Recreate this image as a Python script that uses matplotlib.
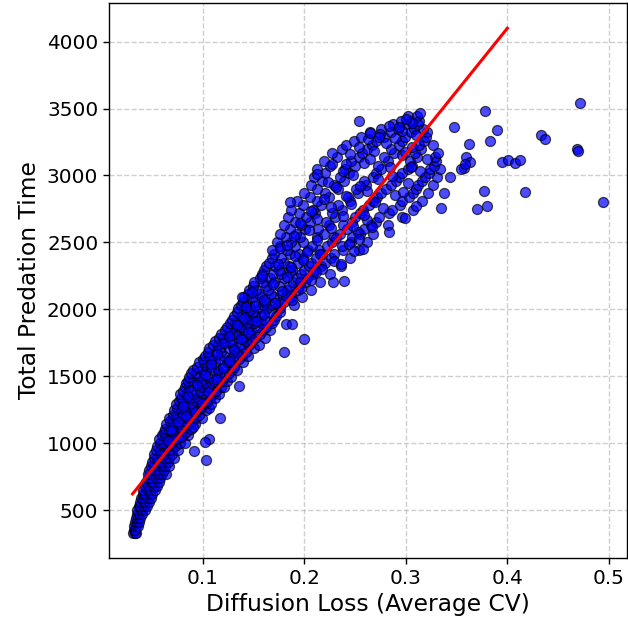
import matplotlib
matplotlib.use("Agg")
import matplotlib.pyplot as plt
import numpy as np

# ---- data ----
# dense band: (total predation time, [diffusion loss values at that time])
lower_rows = [
    (330, [0.031, 0.033, 0.034]),
    (350, [0.032, 0.0335]),
    (380, [0.032, 0.034, 0.036]),
    (410, [0.033, 0.035, 0.037]),
    (440, [0.034, 0.036, 0.038]),
    (470, [0.035, 0.037, 0.040]),
    (500, [0.035, 0.039, 0.040, 0.043]),
    (530, [0.037, 0.038, 0.042, 0.045]),
    (560, [0.038, 0.042, 0.043, 0.047]),
    (590, [0.039, 0.041, 0.046, 0.049]),
    (620, [0.041, 0.043, 0.048, 0.050]),
    (650, [0.041, 0.046, 0.048, 0.053]),
    (680, [0.043, 0.046, 0.052, 0.055]),
    (710, [0.044, 0.049, 0.051, 0.057]),
    (740, [0.046, 0.049, 0.055, 0.058]),
    (770, [0.046, 0.050, 0.057, 0.060, 0.064]),
    (800, [0.047, 0.053, 0.056, 0.062]),
    (830, [0.049, 0.052, 0.060, 0.063, 0.067]),
    (860, [0.050, 0.056, 0.059, 0.066]),
    (890, [0.052, 0.055, 0.063, 0.067, 0.072]),
    (920, [0.052, 0.059, 0.062, 0.070]),
    (950, [0.054, 0.058, 0.066, 0.070, 0.076]),
    (980, [0.055, 0.062, 0.065, 0.073]),
    (1004, [0.058, 0.061, 0.069, 0.078, 0.083]),
    (1027, [0.057, 0.066, 0.071, 0.074]),
    (1058, [0.060, 0.063, 0.070, 0.081, 0.086]),
    (1083, [0.062, 0.072, 0.077, 0.084]),
    (1109, [0.063, 0.067, 0.071, 0.080, 0.089]),
    (1142, [0.064, 0.075, 0.078, 0.086, 0.092]),
    (1168, [0.068, 0.071, 0.082, 0.090]),
    (1187, [0.067, 0.079, 0.085, 0.093, 0.099]),
    (1213, [0.071, 0.074, 0.081, 0.089, 0.096]),
    (1244, [0.072, 0.084, 0.087, 0.095, 0.103]),
    (1262, [0.075, 0.079, 0.091, 0.098, 0.106]),
    (1291, [0.074, 0.083, 0.089, 0.101, 0.108]),
    (1318, [0.077, 0.081, 0.093, 0.097, 0.104]),
    (1337, [0.079, 0.088, 0.095, 0.107, 0.112]),
    (1369, [0.078, 0.085, 0.091, 0.100, 0.110, 0.116]),
    (1392, [0.081, 0.090, 0.097, 0.104, 0.113]),
    (1417, [0.083, 0.087, 0.099, 0.106, 0.118, 0.121]),
    (1446, [0.084, 0.094, 0.102, 0.109, 0.115]),
    (1466, [0.086, 0.091, 0.098, 0.111, 0.119, 0.124]),
    (1497, [0.087, 0.096, 0.105, 0.114, 0.122, 0.128]),
    (1521, [0.089, 0.093, 0.101, 0.117, 0.126]),
    (1544, [0.091, 0.099, 0.110, 0.115, 0.129, 0.134]),
    (1572, [0.094, 0.104, 0.108, 0.121, 0.131]),
    (1603, [0.096, 0.101, 0.112, 0.124, 0.128, 0.140]),
    (1627, [0.100, 0.109, 0.117, 0.127, 0.136]),
    (1651, [0.102, 0.106, 0.121, 0.131, 0.139, 0.145]),
    (1683, [0.105, 0.113, 0.118, 0.134, 0.143]),
    (1708, [0.106, 0.117, 0.126, 0.131, 0.141, 0.151]),
    (1734, [0.110, 0.115, 0.129, 0.137, 0.146, 0.155]),
    (1761, [0.112, 0.122, 0.127, 0.143, 0.149]),
    (1788, [0.116, 0.120, 0.135, 0.140, 0.152, 0.161]),
    (1812, [0.118, 0.129, 0.133, 0.147, 0.156]),
    (1843, [0.122, 0.127, 0.141, 0.148, 0.159, 0.166]),
    (1869, [0.124, 0.136, 0.139, 0.154, 0.162]),
    (1898, [0.127, 0.132, 0.145, 0.151, 0.158, 0.168]),
    (1922, [0.129, 0.142, 0.148, 0.161, 0.170]),
    (1951, [0.131, 0.138, 0.152, 0.157, 0.172]),
    (1979, [0.134, 0.144, 0.150, 0.165, 0.176]),
]
upper_rows = [
    (2006, [0.135, 0.147, 0.156, 0.163, 0.176]),
    (2034, [0.138, 0.143, 0.159, 0.168, 0.174, 0.190]),
    (2055, [0.140, 0.152, 0.161, 0.176, 0.180]),
    (2088, [0.141, 0.150, 0.158, 0.170, 0.187, 0.198]),
    (2113, [0.145, 0.155, 0.167, 0.178, 0.187]),
    (2146, [0.146, 0.153, 0.164, 0.183, 0.194, 0.207]),
    (2171, [0.150, 0.162, 0.175, 0.185, 0.195]),
    (2203, [0.151, 0.159, 0.170, 0.189, 0.201, 0.216]),
    (2232, [0.156, 0.166, 0.180, 0.193, 0.203]),
    (2264, [0.158, 0.169, 0.177, 0.197, 0.209, 0.225]),
    (2291, [0.160, 0.175, 0.188, 0.200, 0.211]),
    (2325, [0.162, 0.171, 0.185, 0.205, 0.217, 0.236]),
    (2349, [0.165, 0.180, 0.194, 0.207, 0.220]),
    (2386, [0.168, 0.177, 0.199, 0.212, 0.226, 0.245]),
    (2411, [0.170, 0.186, 0.195, 0.218, 0.229]),
    (2443, [0.168, 0.183, 0.204, 0.215, 0.238, 0.254]),
    (2476, [0.176, 0.191, 0.208, 0.222, 0.237]),
    (2502, [0.173, 0.187, 0.199, 0.227, 0.246, 0.262]),
    (2538, [0.182, 0.196, 0.213, 0.229, 0.247]),
    (2562, [0.176, 0.192, 0.219, 0.235, 0.255, 0.268]),
    (2597, [0.186, 0.201, 0.214, 0.242, 0.259]),
    (2628, [0.180, 0.197, 0.224, 0.238, 0.266, 0.282]),
    (2655, [0.191, 0.206, 0.221, 0.247, 0.271]),
    (2688, [0.184, 0.202, 0.230, 0.250, 0.274, 0.296]),
    (2719, [0.195, 0.211, 0.227, 0.255, 0.283]),
    (2744, [0.187, 0.209, 0.237, 0.258, 0.286, 0.307]),
    (2776, [0.199, 0.217, 0.233, 0.264, 0.294]),
    (2807, [0.193, 0.213, 0.245, 0.268, 0.296, 0.316]),
    (2838, [0.206, 0.224, 0.243, 0.272, 0.303]),
    (2866, [0.200, 0.220, 0.253, 0.276, 0.307, 0.322]),
    (2897, [0.213, 0.233, 0.251, 0.281, 0.310]),
    (2925, [0.207, 0.229, 0.261, 0.285, 0.312, 0.327]),
    (2958, [0.218, 0.239, 0.259, 0.290, 0.316]),
    (2987, [0.210, 0.235, 0.268, 0.293, 0.319, 0.331]),
    (3016, [0.220, 0.244, 0.271, 0.296, 0.323]),
    (3048, [0.213, 0.240, 0.276, 0.302, 0.324, 0.334]),
    (3074, [0.225, 0.250, 0.273, 0.306, 0.328]),
    (3109, [0.219, 0.246, 0.282, 0.304, 0.330]),
    (3136, [0.232, 0.254, 0.279, 0.311, 0.329]),
    (3167, [0.227, 0.257, 0.288, 0.309, 0.332]),
    (3195, [0.237, 0.262, 0.285, 0.315]),
    (3228, [0.241, 0.267, 0.293, 0.313, 0.327]),
    (3257, [0.249, 0.271, 0.296, 0.318]),
    (3288, [0.256, 0.279, 0.299, 0.320]),
    (3321, [0.265, 0.285, 0.305, 0.321]),
    (3349, [0.276, 0.292, 0.308, 0.317]),
    (3382, [0.287, 0.300, 0.312]),
    (3408, [0.295, 0.305, 0.313]),
    (3443, [0.302, 0.311]),
]
# extra points scattered inside the band
fill_cv = [0.066, 0.079, 0.069, 0.091, 0.076, 0.084, 0.092, 0.081, 0.099, 0.086,
           0.105, 0.094, 0.113, 0.102, 0.120, 0.108, 0.126, 0.114, 0.131, 0.121,
           0.138, 0.126, 0.145, 0.134, 0.153, 0.141, 0.160, 0.147,
           0.143, 0.171, 0.160, 0.182, 0.149, 0.197, 0.169, 0.207, 0.158, 0.186,
           0.218, 0.174, 0.229, 0.191, 0.203, 0.176, 0.244, 0.213, 0.190, 0.253,
           0.226, 0.196, 0.262, 0.238, 0.207, 0.278, 0.246, 0.219, 0.289, 0.262,
           0.231, 0.302, 0.273, 0.248, 0.314, 0.284, 0.259, 0.321, 0.296, 0.269,
           0.306, 0.281, 0.263, 0.310, 0.296, 0.283, 0.306,
           0.152, 0.188, 0.139, 0.178, 0.196, 0.183, 0.212, 0.187, 0.236, 0.199,
           0.216, 0.249, 0.183, 0.231, 0.205, 0.248, 0.213, 0.259, 0.226, 0.270,
           0.241, 0.297, 0.255, 0.223, 0.286, 0.238, 0.305, 0.265, 0.245, 0.299,
           0.254, 0.289, 0.275, 0.300]
fill_time = [1015, 1049, 1096, 1121, 1155, 1201, 1229, 1277, 1303, 1352,
             1382, 1431, 1479, 1509, 1558, 1592, 1616, 1663, 1698, 1745,
             1776, 1801, 1830, 1884, 1909, 1938, 1963, 1991,
             2019, 2047, 2073, 2101, 2128, 2159, 2187, 2219, 2246, 2275,
             2302, 2337, 2363, 2398, 2426, 2459, 2488, 2517, 2549, 2576,
             2609, 2641, 2667, 2699, 2731, 2757, 2789, 2821, 2853, 2882,
             2911, 2943, 2971, 3002, 3031, 3061, 3093, 3121, 3151, 3183,
             3211, 3243, 3274, 3302, 3333, 3366, 3394,
             2021, 2069, 2095, 2139, 2201, 2240, 2281, 2318, 2342, 2371,
             2411, 2437, 2481, 2529, 2591, 2622, 2673, 2707, 2762, 2801,
             2846, 2874, 2919, 2953, 2999, 3033, 3062, 3121, 3158, 3177,
             3213, 3279, 3307, 3421]
# scattered points away from the band
outlier_cv = [0.472, 0.378, 0.347, 0.390, 0.3625, 0.383, 0.433, 0.437, 0.469, 0.470,
              0.3596, 0.3628, 0.3576, 0.3946, 0.4002, 0.4071, 0.4123, 0.3438, 0.3766,
              0.4176, 0.4946, 0.338, 0.3345, 0.370, 0.380, 0.254, 0.3144, 0.293,
              0.2284, 0.2396, 0.2576, 0.2537, 0.186, 0.2127, 0.18, 0.20, 0.1816, 0.1878,
              0.136, 0.117, 0.103, 0.106, 0.102, 0.0914, 0.3104, 0.299, 0.283, 0.2668,
              0.354, 0.3585, 0.2645, 0.274, 0.227, 0.241]
outlier_time = [3540, 3483, 3363, 3338, 3233, 3258, 3300, 3274, 3200, 3183,
                3137, 3100, 3053, 3098, 3118, 3095, 3118, 2987, 2882,
                2875, 2805, 2867, 2755, 2750, 2770, 3405, 3468, 3363,
                2204, 2212, 2454, 2525, 2804, 3013, 1681, 1781, 1887, 1887,
                1424, 1185, 873, 1033, 1010, 940, 2770, 2680, 2574, 2617,
                3050, 3088, 3314, 3285, 3088, 3088]

# regression line
fit_slope = 9430.0
fit_intercept = 328.0
fit_cv_end = 0.40

# ---- assemble ----
cv, tm = [], []
for t, xs in lower_rows + upper_rows:
    for x in xs:
        cv.append(x)
        tm.append(t)
cv += fill_cv + outlier_cv
tm += fill_time + outlier_time
cv = np.array(cv)
tm = np.array(tm)

fig = plt.figure(figsize=(6.28, 6.22), dpi=100)
ax = fig.add_axes([109 / 628, 64 / 622, 518 / 628, 555 / 622])

ax.scatter(cv, tm, s=52, c="blue", alpha=0.7, edgecolors="black", linewidths=0.9, zorder=2)
line_x = np.array([cv.min(), fit_cv_end])
ax.plot(line_x, fit_slope * line_x + fit_intercept, color="red", linewidth=2.2, zorder=3)

ax.set_xlabel("Diffusion Loss (Average CV)", fontsize=16.8)
ax.set_ylabel("Total Predation Time", fontsize=16.8)
ax.tick_params(labelsize=14.4, length=4.2, width=1.0)
ax.set_xticks([0.1, 0.2, 0.3, 0.4, 0.5])
ax.set_yticks([500, 1000, 1500, 2000, 2500, 3000, 3500, 4000])
ax.grid(True, linestyle="--", color="#b0b0b0", alpha=0.6, linewidth=1.0, zorder=0)
ax.set_axisbelow(True)
for sp in ax.spines.values():
    sp.set_linewidth(1.0)

fig.savefig("out.png", dpi=100)
